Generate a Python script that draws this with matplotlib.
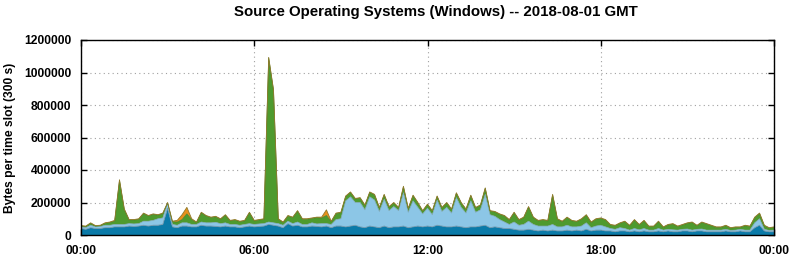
import numpy as np
import matplotlib
matplotlib.use("Agg")
import matplotlib.pyplot as plt

# values in thousands of bytes per 300 s slot, sampled every 10 minutes (00:00 .. 24:00)
dark_blue = [40, 35, 45, 40, 40, 45,
             45, 50, 50, 50, 55, 53,
             55, 60, 55, 60, 60, 65,
             165, 50, 45, 55, 55, 50,
             50, 60, 55, 55, 53, 50,
             55, 50, 50, 45, 50, 55,
             50, 53, 55, 65, 60, 55,
             45, 70, 55, 60, 50, 50,
             55, 53, 50, 55, 45, 55,
             55, 50, 55, 60, 50, 45,
             55, 50, 45, 55, 45, 50,
             50, 55, 45, 50, 55, 50,
             55, 50, 60, 55, 50, 50,
             55, 50, 45, 50, 50, 55,
             60, 45, 50, 45, 40, 40,
             35, 30, 30, 35, 30, 25,
             30, 25, 30, 25, 25, 30,
             25, 30, 25, 35, 25, 30,
             30, 25, 25, 20, 25, 25,
             20, 25, 20, 25, 20, 20,
             25, 20, 25, 20, 20, 25,
             25, 20, 25, 25, 20, 20,
             20, 20, 25, 20, 20, 25,
             20, 20, 45, 60, 25, 20, 20]

light_blue = [10, 10, 15, 10, 12, 15,
              15, 15, 15, 15, 15, 15,
              15, 25, 30, 30, 40, 40,
              30, 15, 15, 20, 20, 15,
              15, 20, 20, 20, 25, 20,
              20, 15, 15, 15, 15, 15,
              15, 15, 15, 15, 15, 15,
              15, 15, 15, 20, 15, 15,
              20, 15, 20, 15, 20, 40,
              45, 160, 180, 140, 150, 110,
              180, 165, 100, 165, 105, 125,
              100, 205, 95, 160, 115, 80,
              110, 75, 155, 90, 120, 85,
              175, 120, 90, 160, 90, 100,
              190, 80, 65, 50, 40, 25,
              45, 30, 35, 50, 35, 30,
              25, 30, 35, 25, 25, 30,
              25, 20, 30, 40, 20, 25,
              30, 25, 15, 15, 20, 15,
              10, 15, 12, 15, 10, 10,
              15, 10, 10, 12, 10, 10,
              12, 10, 10, 12, 10, 10,
              10, 10, 10, 8, 10, 10,
              10, 10, 30, 40, 10, 8, 10]

green = [5, 7, 12, 5, 5, 12,
         17, 20, 272, 92, 22, 24,
         27, 47, 32, 37, 22, 27,
         2, 17, 20, 20, 55, 30,
         12, 57, 42, 32, 34, 27,
         47, 22, 27, 22, 22, 67,
         22, 24, 27, 1010, 817, 27,
         17, 32, 37, 67, 32, 32,
         27, 39, 35, 50, 17, 37,
         37, 27, 27, 22, 27, 27,
         27, 32, 22, 27, 22, 22,
         17, 37, 22, 32, 27, 17,
         22, 22, 22, 22, 27, 22,
         27, 27, 22, 32, 27, 27,
         37, 22, 27, 32, 37, 27,
         57, 32, 42, 87, 42, 32,
         37, 32, 182, 47, 32, 47,
         37, 32, 42, 47, 32, 42,
         42, 42, 22, 22, 27, 42,
         27, 52, 30, 47, 22, 22,
         42, 17, 27, 35, 22, 27,
         35, 47, 22, 40, 37, 27,
         17, 17, 22, 14, 17, 12,
         27, 22, 32, 32, 22, 14, 17]

orange = [3, 3, 3, 3, 3, 3,
          3, 5, 3, 3, 3, 3,
          3, 3, 3, 3, 3, 3,
          3, 3, 10, 30, 40, 5,
          3, 3, 3, 3, 3, 3,
          3, 3, 3, 3, 3, 3,
          3, 3, 3, 3, 3, 3,
          3, 3, 3, 3, 3, 3,
          3, 3, 5, 35, 3, 3,
          3, 3, 3, 3, 3, 3,
          3, 3, 3, 3, 3, 3,
          3, 3, 3, 3, 3, 3,
          3, 3, 3, 3, 3, 3,
          3, 3, 3, 3, 3, 3,
          3, 3, 3, 3, 3, 3,
          3, 3, 3, 3, 3, 3,
          3, 3, 3, 3, 3, 3,
          3, 3, 3, 3, 3, 3,
          3, 3, 3, 3, 3, 3,
          3, 3, 3, 3, 3, 3,
          3, 3, 3, 3, 3, 3,
          3, 3, 3, 3, 3, 3,
          3, 3, 3, 3, 3, 3,
          3, 3, 3, 3, 3, 3, 3]

x_ticks = [0, 6, 12, 18, 24]
x_labels = ["00:00", "06:00", "12:00", "18:00", "00:00"]
y_ticks = [0, 200000, 400000, 600000, 800000, 1000000, 1200000]

hours = np.arange(len(dark_blue)) * 10 / 60.0
series = [np.array(s, dtype=float) * 1000 for s in (dark_blue, light_blue, green, orange)]
fills = ["#0a7aa8", "#8cc6e6", "#4e9a2e", "#e8901c"]
edges = ["#6f96ab", "#7fa7bb", "#3f7f26", "#8f7a2a"]
widths = [0.6, 0.5, 0.5, 0.6]

fig = plt.figure(figsize=(7.94, 2.60), dpi=100)
ax = fig.add_axes([81/794, 25/260, 693/794, 195/260])

font = "Liberation Sans"
base = np.zeros_like(series[0])
for s, fc, ec, w in zip(series, fills, edges, widths):
    top = base + s
    ax.fill_between(hours, base, top, facecolor=fc, edgecolor="none", lw=0)
    ax.plot(hours, top, color=ec, lw=w)
    base = top

ax.set_xlim(0, 24)
ax.set_ylim(0, 1200000)
ax.set_xticks(x_ticks)
ax.set_xticklabels(x_labels, fontfamily=font, fontweight="bold", fontsize=8.7)
ax.set_yticks(y_ticks)
ax.set_yticklabels([str(v) for v in y_ticks], fontfamily=font, fontweight="bold", fontsize=8.7)
ax.tick_params(direction="in", top=True, right=True, length=4, width=1)
ax.tick_params(axis="x", pad=7.5)
ax.tick_params(axis="y", pad=7)
ax.grid(True, linestyle=(0, (1, 3)), color="#a0a0a0", lw=0.8)
ax.set_axisbelow(True)
for sp in ax.spines.values():
    sp.set_linewidth(1.0)
ax.set_ylabel("Bytes per time slot (300 s)", fontfamily=font, fontweight="bold", fontsize=8.7, labelpad=6)
fig.text(435.5/794, 0.955, "Source Operating Systems (Windows) -- 2018-08-01 GMT",
         ha="center", va="center", fontfamily=font, fontweight="bold", fontsize=10.8)

fig.savefig("out.png", dpi=100)
